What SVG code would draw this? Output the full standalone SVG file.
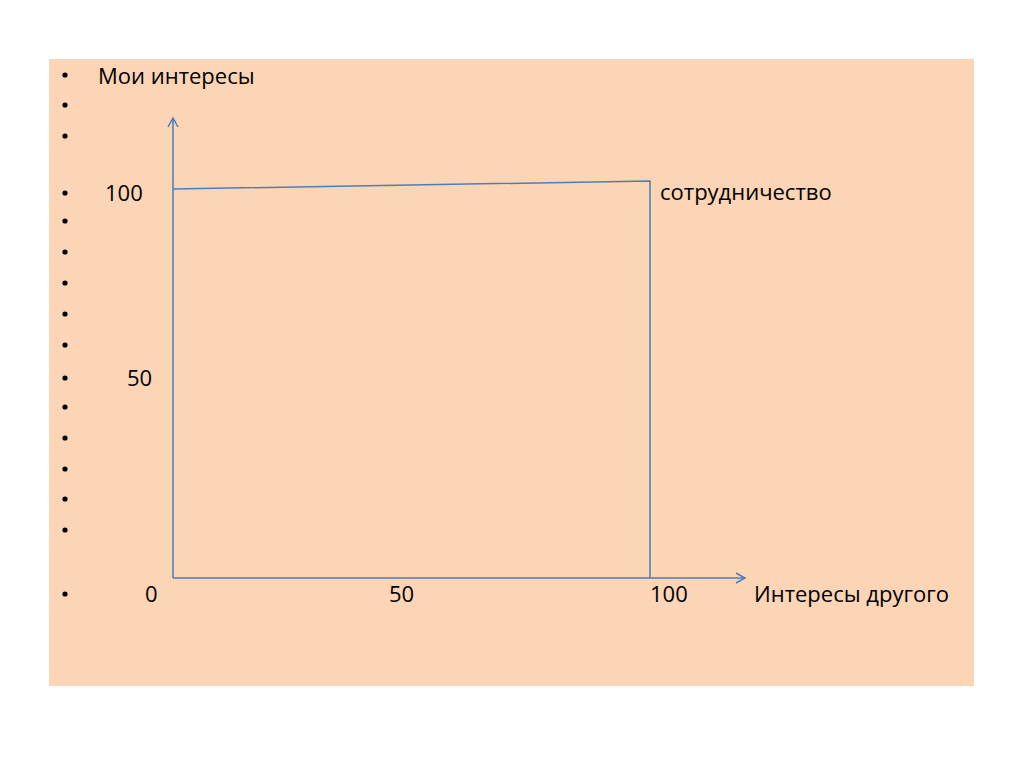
<svg xmlns="http://www.w3.org/2000/svg" width="1024" height="767" viewBox="0 0 1024 767">
<style>
.t{font-family:"Open Sans","Liberation Sans",sans-serif;font-size:22px;fill:#000}
.ax{stroke:#4a7ebb;stroke-width:1.5;fill:none}
</style>
<defs>
<marker id="arr" markerWidth="12" markerHeight="12" refX="10" refY="6" orient="auto" markerUnits="userSpaceOnUse">
<path d="M1,1 L10,6 L1,11" fill="none" stroke="#4a7ebb" stroke-width="1.5"/>
</marker>
</defs>
<rect width="1024" height="767" fill="#fff"/>
<rect x="49" y="59" width="925" height="627" fill="#fbd5b5"/>
<g id="bullets" fill="#000">
<circle cx="65" cy="75" r="2.6"/>
<circle cx="65" cy="105" r="2.6"/>
<circle cx="65" cy="136" r="2.6"/>
<circle cx="65" cy="193" r="2.6"/>
<circle cx="65" cy="221" r="2.6"/>
<circle cx="65" cy="252" r="2.6"/>
<circle cx="65" cy="283" r="2.6"/>
<circle cx="65" cy="314" r="2.6"/>
<circle cx="65" cy="345" r="2.6"/>
<circle cx="65" cy="378" r="2.6"/>
<circle cx="65" cy="407" r="2.6"/>
<circle cx="65" cy="438" r="2.6"/>
<circle cx="65" cy="469" r="2.6"/>
<circle cx="65" cy="499" r="2.6"/>
<circle cx="65" cy="530" r="2.6"/>
<circle cx="65" cy="594" r="2.6"/>
</g>
<g id="connectors">
<line class="ax" x1="173" y1="578" x2="173" y2="118" marker-end="url(#arr)"/>
<line class="ax" x1="173" y1="578" x2="745" y2="578" marker-end="url(#arr)"/>
<polyline class="ax" points="173,189 650,181 650,578"/>
</g>
<g id="labels">
<text class="t" x="98" y="84">Мои интересы</text>
<text class="t" x="105" y="201">100</text>
<text class="t" x="127" y="386">50</text>
<text class="t" x="145" y="602">0</text>
<text class="t" x="389" y="602">50</text>
<text class="t" x="650" y="602">100</text>
<text class="t" x="754" y="602">Интересы другого</text>
<text class="t" x="660" y="200">сотрудничество</text>
</g>
</svg>
